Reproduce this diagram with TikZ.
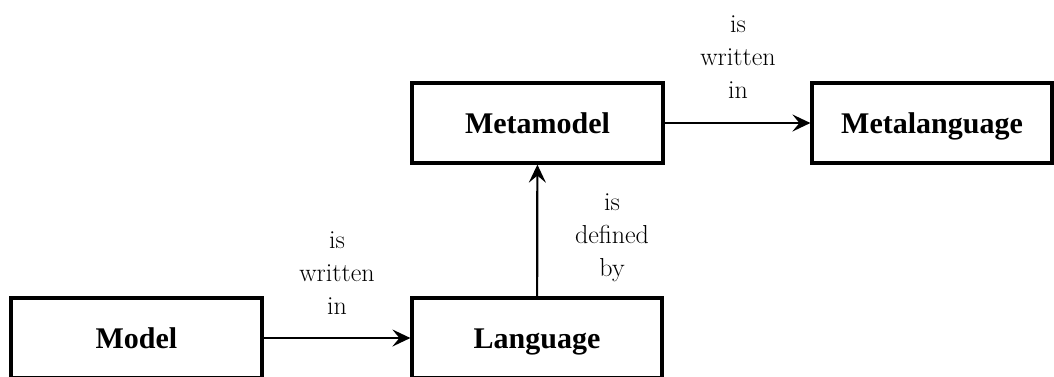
\documentclass[tikz,border=0pt]{standalone}
\usepackage{fontspec}
\newfontfamily\boxfont{Liberation Serif}
\usetikzlibrary{arrows.meta}
\begin{document}
\begin{tikzpicture}[x=1pt,y=1pt,
  box/.style={draw, line width=3.2pt, minimum height=80pt, inner sep=0pt,
    text height=27pt, text depth=6pt,
    font=\boxfont\fontsize{30}{36}\selectfont\bfseries},
  rel/.style={line width=2.2pt, -{Stealth[length=18pt,width=17pt,inset=7pt]}},
  lbl/.style={align=center, inner sep=0pt, font=\rmfamily\fontsize{26}{33}\selectfont}]
\useasboundingbox (0,0) rectangle (1054,-376);
% boxes
\node[box, minimum width=251pt] (model) at (136.5,-338) {Model};
\node[box, minimum width=250pt] (lang) at (537,-338) {Language};
\node[box, minimum width=251pt] (meta) at (537.5,-123) {Metamodel};
\node[box, minimum width=240pt] (metalang) at (932,-123) {Metalanguage};
% relations
\draw[rel] (model) -- (lang);
\draw[rel] (lang) -- (meta);
\draw[rel] (meta) -- (metalang);
% relation labels
\node[lbl] (l1) at (337,-273) {is\\written\\in};
\node[lbl] (l2) at (612,-238) {is\\defined\\by};
\node[lbl] (l3) at (738,-57) {is\\written\\in};
\end{tikzpicture}
\end{document}
